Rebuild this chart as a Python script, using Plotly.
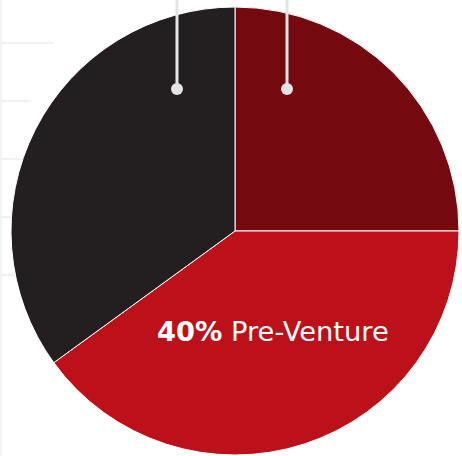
import plotly.graph_objects as go

# Venture-stage breakdown
labels = ["Early Venture", "Pre-Venture", "Other"]
values = [25, 40, 35]
colors = ["#740a10", "#bc111a", "#231f20"]
label_index = 1  # slice that carries the in-chart label

W, H = 462, 456

fig = go.Figure()
fig.add_trace(go.Pie(
    labels=labels,
    values=values,
    sort=False,
    direction="clockwise",
    rotation=0,
    marker=dict(colors=colors, line=dict(color="white", width=1)),
    textinfo="none",
    hoverinfo="skip",
    showlegend=False,
    domain=dict(x=[11 / W, 459 / W], y=[1 / H, 449 / H]),
))

pct = round(100 * values[label_index] / sum(values))
fig.add_annotation(
    xref="paper", yref="paper",
    x=272.5 / W, y=1 - 331 / H,
    xanchor="center", yanchor="middle",
    text=f"<b>{pct}%</b> {labels[label_index]}",
    showarrow=False,
    font=dict(family="DejaVu Sans", size=27.3, color="white"),
)

shapes = []
# faint background rules along the left edge
shapes.append(dict(type="line", xref="paper", yref="paper", layer="below",
                   x0=1 / W, x1=1 / W, y0=0, y1=1,
                   line=dict(color="#f3f3f3", width=2)))
for yp, xe in [(43, 54), (101, 31), (159, 40), (217, 40), (275, 40)]:
    shapes.append(dict(type="line", xref="paper", yref="paper", layer="below",
                       x0=0, x1=xe / W, y0=1 - yp / H, y1=1 - yp / H,
                       line=dict(color="#f1f1f1", width=2)))
# leader lines with end dots
for xp in [177, 287]:
    shapes.append(dict(type="line", xref="paper", yref="paper",
                       x0=xp / W, x1=xp / W, y0=1, y1=1 - 89 / H,
                       line=dict(color="#e4e4e7", width=3)))
    shapes.append(dict(type="circle", xref="paper", yref="paper",
                       x0=(xp - 6) / W, x1=(xp + 6) / W,
                       y0=1 - 95 / H, y1=1 - 83 / H,
                       fillcolor="#e4e4e7", line=dict(width=0)))

fig.update_layout(
    width=W, height=H,
    margin=dict(l=0, r=0, t=0, b=0),
    paper_bgcolor="white",
    plot_bgcolor="white",
    shapes=shapes,
)

fig.write_html("out.html")
